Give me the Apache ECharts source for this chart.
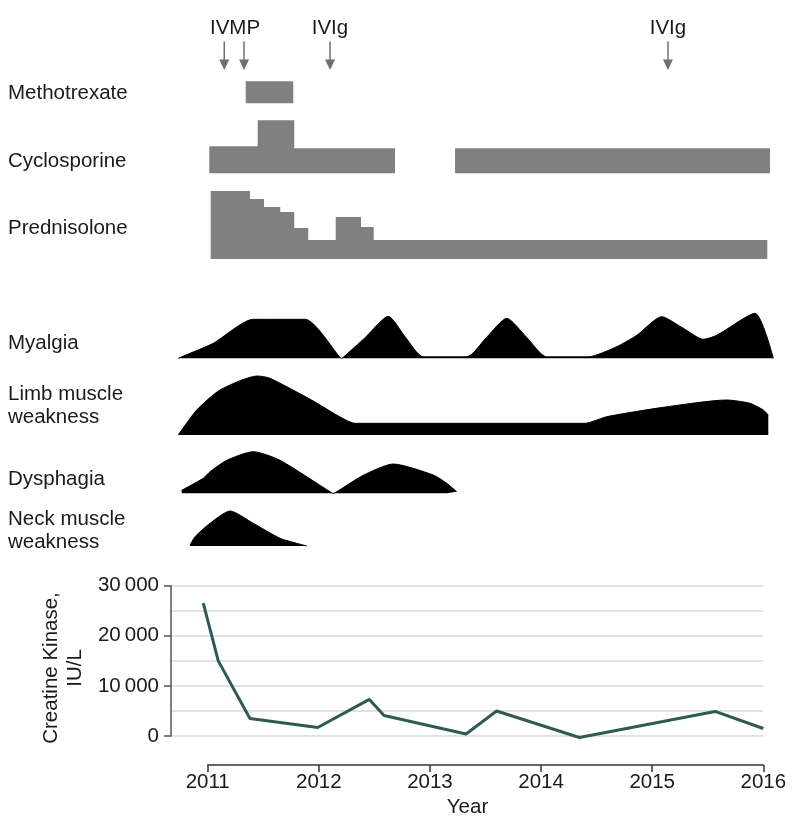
<!DOCTYPE html>
<html><head><meta charset="utf-8">
<script src="https://cdn.jsdelivr.net/npm/echarts@6/dist/echarts.min.js"></script>
<style>html,body{margin:0;padding:0;background:#fff}#c{width:794px;height:839px}</style>
</head><body><div id="c"></div>
<script>
// ---------- DATA ----------
const eventNames = ['IVMP', 'IVIg', 'IVIg'];
const eventLabelYears = [2011.246, 2012.10, 2015.142];
const arrowYears = [2011.149, 2011.327, 2012.101, 2015.142];

const treatmentNames = ['Methotrexate', 'Cyclosporine', 'Prednisolone'];
// [start year, end year, relative dose level]
const methotrexate = [[2011.342, 2011.770, 22]];
const cyclosporine = [
  [2011.014, 2011.450, 27], [2011.450, 2011.770, 53],
  [2011.770, 2012.686, 25], [2013.226, 2016.060, 25]
];
const prednisolone = [
  [2011.027, 2011.372, 68], [2011.372, 2011.498, 60], [2011.498, 2011.644, 52],
  [2011.644, 2011.770, 47], [2011.770, 2011.896, 31], [2011.896, 2012.152, 19],
  [2012.152, 2012.371, 42], [2012.371, 2012.485, 32], [2012.485, 2016.036, 19]
];

const symptomNames = ['Myalgia', 'Limb muscle\nweakness', 'Dysphagia', 'Neck muscle\nweakness'];
// [year, relative severity]
const myalgia = [
  [2010.735, 0], [2010.841, 5], [2011.050, 15], [2011.410, 39], [2011.876, 39],
  [2012.191, 1], [2012.205, 0], [2012.220, 1], [2012.420, 21], [2012.625, 42], [2012.780, 21],
  [2012.940, 1.5], [2013.331, 1.5], [2013.510, 21], [2013.691, 40], [2013.870, 21],
  [2014.051, 1.5], [2014.425, 1.5], [2014.681, 11.6], [2014.861, 23], [2015.086, 41.6],
  [2015.280, 30], [2015.460, 19], [2015.581, 23], [2015.925, 45], [2016.090, 0]
];
const limbWeakness = [
  [2010.735, 0], [2010.901, 25], [2011.111, 45], [2011.446, 59], [2011.561, 56.7],
  [2011.950, 34], [2012.161, 20], [2012.326, 11.7], [2014.395, 11.7], [2014.591, 18.3],
  [2015.100, 27.7], [2015.671, 35], [2015.880, 31.7], [2016.000, 25], [2016.045, 20]
];
const dysphagia = [
  [2010.766, 3], [2010.960, 15], [2011.021, 21.6], [2011.171, 33], [2011.410, 41.6],
  [2011.651, 33], [2012.116, 0.5], [2012.130, 0], [2012.146, 0.5], [2012.400, 18],
  [2012.670, 29.3], [2013.030, 18.3], [2013.151, 10], [2013.241, 1.6]
];
const neckWeakness = [
  [2010.841, 1], [2010.886, 9.3], [2011.021, 22.7], [2011.201, 35], [2011.410, 22.7],
  [2011.651, 7.7], [2011.800, 2.7], [2011.891, 0]
];

const ckYears = [2010.96, 2011.095, 2011.38, 2011.99, 2012.455, 2012.587, 2013.325, 2013.60, 2014.345, 2015.566, 2016.0];
const ckValues = [26500, 15000, 3500, 1700, 7300, 4100, 400, 5000, -300, 4900, 1500];
const yearTicks = [2011, 2012, 2013, 2014, 2015, 2016];

// ---------- LAYOUT ----------
const W = 794;
const X2011 = 207.7, PPY = 111.12;          // pixel of 2011 and pixels per year
const SHAPE_MIN = 2010.6, SHAPE_MAX = 2016.2;
const shapeLeft = X2011 + (SHAPE_MIN - 2011) * PPY;
const shapeRight = W - (X2011 + (SHAPE_MAX - 2011) * PPY);
const CK_LEFT = 171;
const CK_MIN = 2011 - (X2011 - CK_LEFT) / PPY;
const CK_RIGHT = W - (X2011 + 5 * PPY);
const FONT = '"Liberation Sans", Arial, sans-serif';
const FS = 20.5;
const TXT = '#1a1a1a';
const GRAY = '#808080';

const treatRows = [ {data: methotrexate, base: 103.3}, {data: cyclosporine, base: 173.3}, {data: prednisolone, base: 259} ];
const sympRows = [ {data: myalgia, base: 358.3}, {data: limbWeakness, base: 435}, {data: dysphagia, base: 493.3}, {data: neckWeakness, base: 546} ];
const TREAT_H = 70, SYMP_H = 50;

const grids = [], xAxes = [], yAxes = [], series = [];
function addGrid(top, height, xmin, xmax, ymin, ymax, left, right) {
  grids.push({left: left, right: right, top: top, height: height});
  const i = grids.length - 1;
  xAxes.push({type: 'value', gridIndex: i, min: xmin, max: xmax, show: false});
  yAxes.push({type: 'value', gridIndex: i, min: ymin, max: ymax, show: false});
  return i;
}

// events grid
const evIdx = addGrid(20, 50, SHAPE_MIN, SHAPE_MAX, 0, 1, shapeLeft, shapeRight);
series.push({
  type: 'custom', xAxisIndex: evIdx, yAxisIndex: evIdx, silent: true,
  data: arrowYears.map(y => [y, 0]),
  renderItem: function (params, api) {
    const cs = params.coordSys;
    const x = api.coord([api.value(0), 0])[0];
    const tip = cs.y + cs.height, top = cs.y + cs.height * 0.43;
    const hh = 10.5, hw = 5;
    return {type: 'group', children: [
      {type: 'line', shape: {x1: x, y1: top, x2: x, y2: tip - hh + 1}, style: {stroke: '#6f6f6f', lineWidth: 1.5}},
      {type: 'polygon', shape: {points: [[x - hw, tip - hh], [x + hw, tip - hh], [x, tip]]}, style: {fill: '#6f6f6f'}}
    ]};
  }
});
series.push({
  type: 'custom', xAxisIndex: evIdx, yAxisIndex: evIdx, silent: true,
  data: eventLabelYears.map((y, i) => [y, 0, eventNames[i]]),
  renderItem: function (params, api) {
    const cs = params.coordSys;
    const x = api.coord([api.value(0), 0])[0];
    return {type: 'text', x: x, y: cs.y + 8.7,
      style: {text: eventNames[params.dataIndex], font: FS + 'px ' + FONT, fill: TXT, align: 'center', verticalAlign: 'middle'}};
  }
});

// treatment rows (step bars; adjoining steps overlap slightly to avoid seams)
treatRows.forEach(r => {
  const gi = addGrid(r.base - TREAT_H, TREAT_H, SHAPE_MIN, SHAPE_MAX, 0, TREAT_H, shapeLeft, shapeRight);
  series.push({
    type: 'custom', xAxisIndex: gi, yAxisIndex: gi, silent: true,
    data: r.data,
    renderItem: function (params, api) {
      const a = api.coord([api.value(0), api.value(2)]);
      const b = api.coord([api.value(1), 0]);
      const next = r.data[params.dataIndex + 1];
      const joined = next && Math.abs(next[0] - api.value(1)) < 1e-6;
      return {type: 'rect', shape: {x: a[0], y: a[1], width: b[0] - a[0] + (joined ? 1 : 0), height: b[1] - a[1]},
        style: {fill: GRAY}};
    }
  });
});

// symptom rows
sympRows.forEach(r => {
  const gi = addGrid(r.base - SYMP_H, SYMP_H, SHAPE_MIN, SHAPE_MAX, 0, SYMP_H, shapeLeft, shapeRight);
  series.push({
    type: 'line', xAxisIndex: gi, yAxisIndex: gi, silent: true, clip: false,
    data: r.data, smooth: 0.22, symbol: 'none',
    lineStyle: {color: '#000', width: 1}, areaStyle: {color: '#000', opacity: 1}
  });
});

// CK grid
grids.push({left: CK_LEFT, right: CK_RIGHT, top: 585.7, height: 150.3});
const ckIdx = grids.length - 1;
xAxes.push({type: 'value', gridIndex: ckIdx, min: CK_MIN, max: 2016, show: false});
yAxes.push({
  type: 'value', gridIndex: ckIdx, min: 0, max: 30000, interval: 10000,
  axisLine: {show: true, lineStyle: {color: '#555', width: 1.5}},
  axisTick: {show: true, length: 7, lineStyle: {color: '#555', width: 1.5}},
  axisLabel: {margin: 12, fontSize: FS, fontFamily: FONT, color: TXT,
    formatter: v => v === 0 ? '0' : (v / 1000) + '\u2009000'},
  splitLine: {show: true, lineStyle: {color: '#d9d9d9', width: 1.5}},
  minorTick: {show: false, splitNumber: 2},
  minorSplitLine: {show: true, lineStyle: {color: '#d9d9d9', width: 1.5}}
});
series.push({
  type: 'line', xAxisIndex: ckIdx, yAxisIndex: ckIdx, clip: false, silent: true,
  data: ckYears.map((y, i) => [y, ckValues[i]]), symbol: 'none',
  lineStyle: {color: '#2e5a55', width: 3}
});

// bottom year axis
grids.push({left: X2011, right: CK_RIGHT, top: 764, height: 1});
const axIdx = grids.length - 1;
xAxes.push({
  type: 'value', gridIndex: axIdx, min: yearTicks[0], max: yearTicks[yearTicks.length - 1], interval: 1,
  position: 'bottom',
  axisLine: {show: true, lineStyle: {color: '#333', width: 1.5}},
  axisTick: {show: true, length: 7, lineStyle: {color: '#333', width: 1.5}},
  axisLabel: {fontSize: FS, fontFamily: FONT, color: TXT, margin: 7, formatter: v => String(v)},
  splitLine: {show: false}
});
yAxes.push({type: 'value', gridIndex: axIdx, show: false});

// labels
const rowLabelY = [93, 161.3, 228];
const sympLabelY = [343, 405.9, 479, 530.7];
const graphics = [];
treatmentNames.forEach((t, i) => graphics.push({type: 'text', x: 8, y: rowLabelY[i],
  style: {text: t, font: FS + 'px ' + FONT, fill: TXT, verticalAlign: 'middle'}}));
symptomNames.forEach((t, i) => graphics.push({type: 'text', x: 8, y: sympLabelY[i],
  style: {text: t, font: FS + 'px ' + FONT, fill: TXT, verticalAlign: 'middle', lineHeight: 22.5}}));
graphics.push({type: 'text', x: 63.5, y: 668, rotation: Math.PI / 2,
  style: {text: 'Creatine Kinase,\nIU/L', font: FS + 'px ' + FONT, fill: TXT, align: 'center', verticalAlign: 'middle', lineHeight: 24}});
graphics.push({type: 'text', x: 467.5, y: 807,
  style: {text: 'Year', font: FS + 'px ' + FONT, fill: TXT, align: 'center', verticalAlign: 'middle'}});

const chart = echarts.init(document.getElementById('c'));
chart.setOption({
  animation: false,
  backgroundColor: '#fff',
  grid: grids, xAxis: xAxes, yAxis: yAxes, series: series,
  graphic: graphics
});
</script></body></html>
